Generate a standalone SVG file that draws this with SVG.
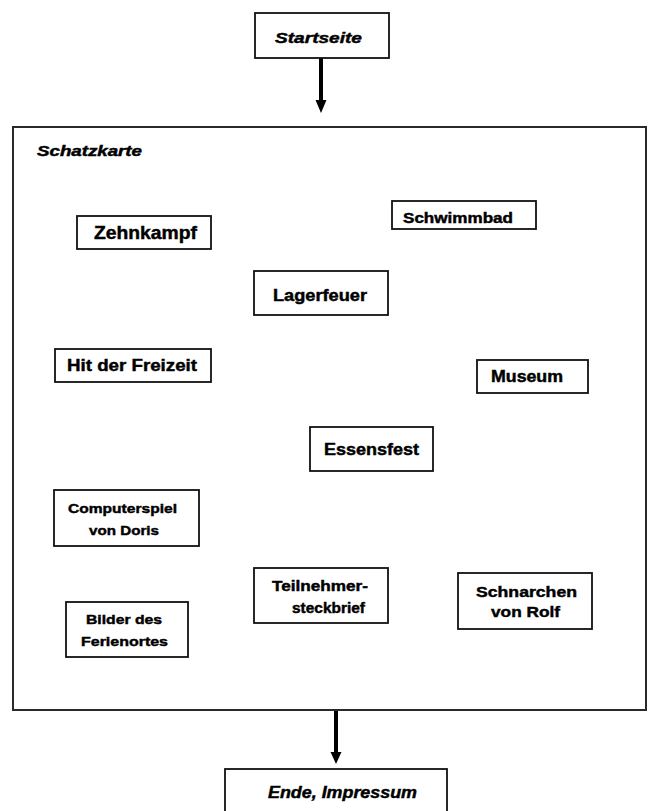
<svg xmlns="http://www.w3.org/2000/svg" width="649" height="811" viewBox="0 0 649 811">
<style>
.box{fill:#fff;stroke:#111;stroke-width:1.8}
.frame{fill:none;stroke:#2a2a2a;stroke-width:2}
.t{font-family:"Liberation Sans",Arial,sans-serif;font-weight:bold;fill:#000;stroke:#000;stroke-width:0.45}
.i{font-style:italic}
.conn{stroke:#000;stroke-width:4;fill:none}
.head{fill:#000}
</style>
<rect width="649" height="811" fill="#fff"/>
<g id="schatzkarte">
<rect class="frame" x="13" y="127" width="633" height="583"/>
<text class="t i" x="37" y="156" font-size="14" textLength="105" lengthAdjust="spacingAndGlyphs">Schatzkarte</text>
</g>
<g id="connectors">
<line class="conn" x1="321" y1="58" x2="321" y2="101"/>
<polygon class="head" points="315.5,100 326.5,100 321,113"/>
<line class="conn" x1="336" y1="711" x2="336" y2="753"/>
<polygon class="head" points="330.5,752 341.5,752 336,764"/>
</g>
<g id="startseite">
<rect class="box" x="255" y="13" width="134" height="45"/>
<text class="t i" x="275" y="43" font-size="15.5" textLength="87" lengthAdjust="spacingAndGlyphs">Startseite</text>
</g>
<g id="zehnkampf">
<rect class="box" x="77" y="216" width="134" height="33"/>
<text class="t" x="94" y="239" font-size="19" textLength="103" lengthAdjust="spacingAndGlyphs">Zehnkampf</text>
</g>
<g id="schwimmbad">
<rect class="box" x="392" y="201" width="144" height="28"/>
<text class="t" x="403" y="223" font-size="15" textLength="110" lengthAdjust="spacingAndGlyphs">Schwimmbad</text>
</g>
<g id="lagerfeuer">
<rect class="box" x="254" y="271" width="134" height="44"/>
<text class="t" x="273" y="301" font-size="16" textLength="94" lengthAdjust="spacingAndGlyphs">Lagerfeuer</text>
</g>
<g id="hit">
<rect class="box" x="55" y="349" width="156" height="33"/>
<text class="t" x="67" y="371" font-size="17" textLength="130" lengthAdjust="spacingAndGlyphs">Hit der Freizeit</text>
</g>
<g id="museum">
<rect class="box" x="477" y="360" width="111" height="33"/>
<text class="t" x="491" y="382" font-size="16" textLength="72" lengthAdjust="spacingAndGlyphs">Museum</text>
</g>
<g id="essensfest">
<rect class="box" x="310" y="427" width="123" height="44"/>
<text class="t" x="324" y="455" font-size="16" textLength="95" lengthAdjust="spacingAndGlyphs">Essensfest</text>
</g>
<g id="computerspiel">
<rect class="box" x="54" y="490" width="145" height="56"/>
<text class="t" x="68" y="513" font-size="13.5" textLength="109" lengthAdjust="spacingAndGlyphs">Computerspiel</text>
<text class="t" x="89" y="535" font-size="13.5" textLength="70" lengthAdjust="spacingAndGlyphs">von Doris</text>
</g>
<g id="bilder">
<rect class="box" x="66" y="602" width="122" height="55"/>
<text class="t" x="86" y="624" font-size="13.5" textLength="76" lengthAdjust="spacingAndGlyphs">Bilder des</text>
<text class="t" x="81" y="646" font-size="13.5" textLength="87" lengthAdjust="spacingAndGlyphs">Ferienortes</text>
</g>
<g id="teilnehmer">
<rect class="box" x="254" y="568" width="134" height="55"/>
<text class="t" x="272" y="591" font-size="15" textLength="96" lengthAdjust="spacingAndGlyphs">Teilnehmer-</text>
<text class="t" x="292" y="613" font-size="15" textLength="73" lengthAdjust="spacingAndGlyphs">steckbrief</text>
</g>
<g id="schnarchen">
<rect class="box" x="458" y="573" width="134" height="56"/>
<text class="t" x="476" y="597" font-size="15" textLength="101" lengthAdjust="spacingAndGlyphs">Schnarchen</text>
<text class="t" x="491" y="617" font-size="15" textLength="69" lengthAdjust="spacingAndGlyphs">von Rolf</text>
</g>
<g id="ende">
<rect class="box" x="225" y="769" width="222" height="60"/>
<text class="t i" x="268" y="798" font-size="16" textLength="149" lengthAdjust="spacingAndGlyphs">Ende, Impressum</text>
</g>
</svg>
